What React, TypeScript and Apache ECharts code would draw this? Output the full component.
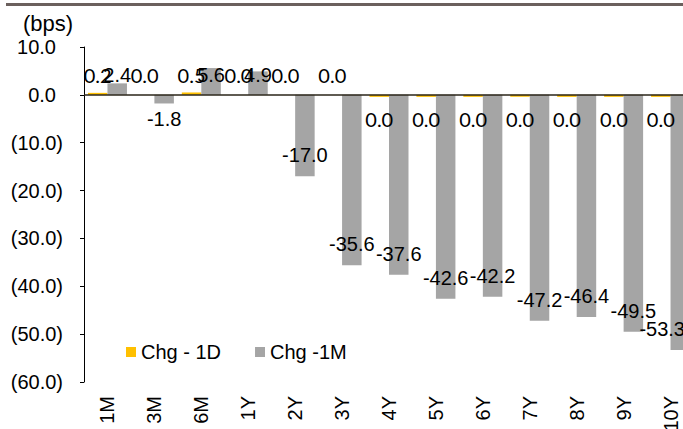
import React, { useEffect, useRef } from "react";
import * as echarts from "echarts";

const categories = ["1M", "3M", "6M", "1Y", "2Y", "3Y", "4Y", "5Y", "6Y", "7Y", "8Y", "9Y", "10Y"];
const chg1D = [0.2, 0.0, 0.5, 0.0, 0.0, 0.0, -0.04, -0.04, -0.04, -0.04, -0.04, -0.04, -0.04];
const chg1M = [2.4, -1.8, 5.6, 4.9, -17.0, -35.6, -37.6, -42.6, -42.2, -47.2, -46.4, -49.5, -53.3];
const seriesNames = ["Chg - 1D", "Chg -1M"];
const unitLabel = "(bps)";

const FONT = "'Liberation Sans', Arial, sans-serif";
const FONT_1D = "Lato, 'Open Sans', sans-serif";
const CHART_W = 683;

const fmtBar = (v: number) => (Math.abs(v) < 0.05 ? "0.0" : v.toFixed(1));

export default function App() {
  const ref = useRef<HTMLDivElement>(null);

  useEffect(() => {
    if (!ref.current) return;
    const chart = echarts.init(ref.current, undefined, { renderer: "svg" });

    const yellowData = chg1D.map((v) => ({
      value: v,
      itemStyle: v === 0 ? { color: "rgba(0,0,0,0)" } : undefined,
      label: v >= 0 ? { position: "insideBottom", distance: 10 } : { position: "bottom", distance: 12 },
    }));

    const grayData = chg1M.map((v) => ({
      value: v,
      label:
        v >= 0
          ? { position: "insideBottom", distance: 10 }
          : Math.abs(v) < 5
          ? { position: "bottom", distance: 5.5 }
          : { position: "insideBottom", distance: 11 },
    }));

    chart.setOption({
      animation: false,
      backgroundColor: "#fff",
      textStyle: { fontFamily: FONT },
      graphic: [
        {
          type: "rect",
          shape: { x: 6, y: 3, width: 690, height: 3 },
          style: { fill: "#6b605d" },
          silent: true,
        },
        {
          type: "text",
          left: 23,
          top: 12,
          style: { text: unitLabel, fontSize: 22, fontFamily: FONT, fill: "#000" },
          silent: true,
        },
      ],
      legend: {
        data: seriesNames,
        left: 126,
        top: 342,
        padding: 0,
        itemWidth: 10,
        itemHeight: 10,
        itemGap: 34,
        icon: "rect",
        textStyle: { fontSize: 20, fontFamily: FONT, color: "#000" },
      },
      grid: {
        left: 84,
        right: -11,
        top: 47,
        bottom: 47,
        containLabel: false,
        outerBoundsMode: "none",
      },
      xAxis: {
        type: "category",
        data: categories,
        axisLine: { show: false, onZero: false },
        axisTick: { show: false },
        axisLabel: { rotate: 90, margin: 14, fontSize: 20, fontFamily: FONT, color: "#000", interval: 0 },
        splitLine: { show: false },
      },
      yAxis: {
        type: "value",
        min: -60,
        max: 10,
        interval: 10,
        axisLine: { show: true, lineStyle: { color: "#000", width: 1 } },
        axisTick: { show: true, inside: false, length: 4, lineStyle: { color: "#000" } },
        splitLine: { show: false },
        axisLabel: {
          margin: 21,
          fontSize: 20,
          fontFamily: FONT,
          color: "#000",
          formatter: (v: number) =>
            v < 0 ? `(${Math.abs(v).toFixed(1)})` : `{p|${v.toFixed(1)}}`,
          rich: { p: { padding: [0, 7, 0, 0], fontSize: 20, fontFamily: FONT, color: "#000" } },
        },
      },
      series: [
        {
          name: seriesNames[0],
          type: "bar",
          data: yellowData,
          barWidth: 19.5,
          barGap: "0%",
          barMinHeight: 2,
          itemStyle: { color: "#FFC000" },
          label: {
            show: true,
            formatter: (p: any) => fmtBar(p.value),
            fontSize: 20,
            fontFamily: FONT_1D,
            color: "#000",
          },
        },
        {
          name: seriesNames[1],
          type: "bar",
          data: grayData,
          barWidth: 19.5,
          barGap: "0%",
          itemStyle: { color: "#A5A5A5" },
          label: {
            show: true,
            formatter: (p: any) => fmtBar(p.value),
            fontSize: 20,
            fontFamily: FONT,
            color: "#000",
          },
          labelLayout: (params: any) => {
            const r = params.labelRect;
            const over = r.x + r.width - (CHART_W + 2);
            return over > 0 ? { dx: -over } : {};
          },
          markLine: {
            silent: true,
            symbol: ["none", "none"],
            label: { show: false },
            lineStyle: { color: "#2a2418", width: 1.5, type: "solid" },
            data: [{ yAxis: 0 }],
            z: 5,
          },
        },
      ],
    });

    return () => chart.dispose();
  }, []);

  return (
    <div
      ref={ref}
      style={{ position: "absolute", left: 0, top: 0, width: CHART_W, height: 429, background: "#fff" }}
    />
  );
}
